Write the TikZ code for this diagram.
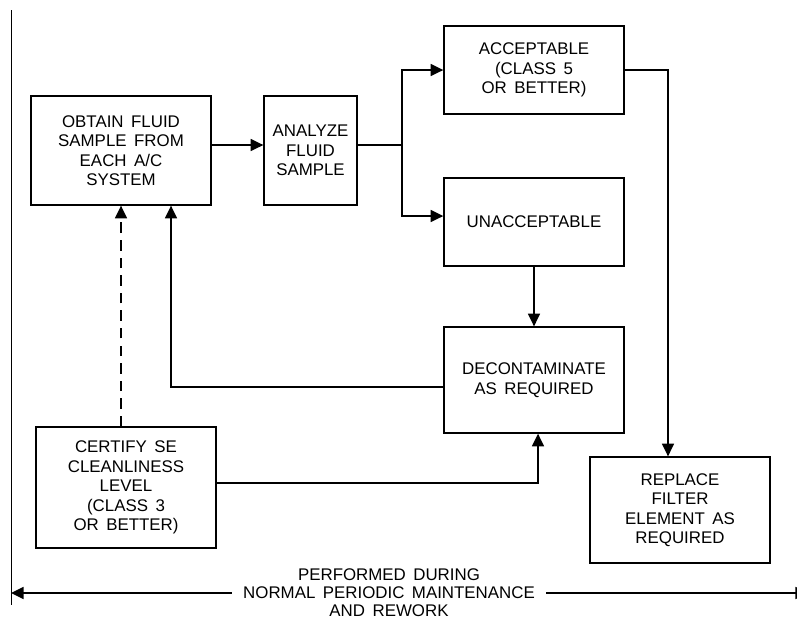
\documentclass[tikz,border=0pt]{standalone}
\usepackage{fontspec}
\setmainfont{Liberation Sans}[WordSpace=1.6]
\usetikzlibrary{arrows.meta, positioning, calc}

\begin{document}
\begin{tikzpicture}[
    x=0.025cm, y=-0.025cm,
    font=\fontsize{12}{13.8}\selectfont,
    blk/.style={draw, line width=0.9pt, minimum width=4.5cm, align=center, inner sep=2pt},
    flow/.style={line width=1.3pt, -{Triangle[length=9pt, width=8.5pt]}},
    wire/.style={line width=1.3pt}
  ]
    \useasboundingbox (0,0) rectangle (797,620);

    \node[blk, minimum height=2.725cm] (obtain) at (121,150.5) {OBTAIN FLUID\\SAMPLE FROM\\EACH A/C\\SYSTEM};
    \node[blk, minimum width=2.325cm, minimum height=2.725cm] (analyze) at (310.5,150.5) {ANALYZE\\FLUID\\SAMPLE};
    \node[blk, minimum height=2.2cm] (accept) at (534,70) {ACCEPTABLE\\(CLASS 5\\OR BETTER)};
    \node[blk, minimum height=2.2cm] (unacc) at (534,222) {UNACCEPTABLE};
    \node[blk, minimum height=2.65cm] (decon) at (534,380) {DECONTAMINATE\\AS REQUIRED};
    \node[blk, minimum height=2.65cm] (replace) at (680,510) {REPLACE\\FILTER\\ELEMENT AS\\REQUIRED};
    \node[blk, minimum height=3.025cm] (certify) at (126,487.5) {CERTIFY SE\\CLEANLINESS\\LEVEL\\(CLASS 3\\OR BETTER)};
    \node[align=center, inner xsep=7.8pt, inner ysep=0pt, font=\fontsize{12}{12.8}\selectfont] (note) at (389,593) {PERFORMED DURING\\NORMAL PERIODIC MAINTENANCE\\AND REWORK};

    \coordinate (split) at (402,145);
    \coordinate (edgetop) at (11,10);
    \coordinate (edgebot) at (11,605);
    \coordinate (edgeleft) at (11,593);
    \coordinate (edgeright) at (808,593);

    \draw[line width=0.6pt] (edgetop) -- (edgebot);

    \draw[flow] (obtain.east |- split) -- (analyze.west |- split);
    \draw[wire] (analyze.east |- split) -- (split);
    \draw[flow] (split) |- (accept.west);
    \draw[flow] (split) |- ($(unacc.west)+(0,-6)$);
    \draw[flow] (accept.east) -| ($(replace.north)+(-12,0)$);
    \draw[flow] (unacc) -- (decon);
    \draw[flow] ($(decon.west)+(0,7)$) -| ($(obtain.south)+(50,0)$);
    \draw[flow, dash pattern=on 7.5pt off 5pt] (certify.north -| obtain) -- (obtain.south);
    \draw[flow] ($(certify.east)+(0,-4.5)$) -| ($(decon.south)+(4,0)$);

    \draw[flow] (note.west) -- (edgeleft);
    \draw[flow] (note.east) -- (edgeright);
\end{tikzpicture}
\end{document}
